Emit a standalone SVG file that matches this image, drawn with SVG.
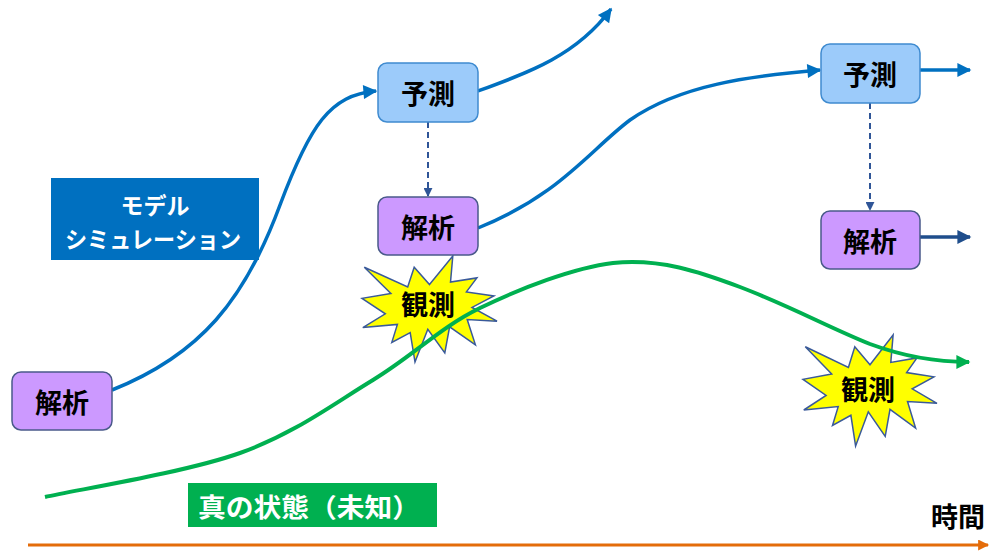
<svg xmlns="http://www.w3.org/2000/svg" width="993" height="553" viewBox="0 0 993 553">
<style>
.lbl{font-family:"Noto Sans CJK JP","Noto Sans",sans-serif;font-weight:bold;font-size:27px;fill:#000;text-anchor:middle;dominant-baseline:central}
.wlbl{font-family:"Noto Sans CJK JP","Noto Sans",sans-serif;font-weight:bold;fill:#fff;text-anchor:middle;dominant-baseline:central}
.pred{fill:#9CCBFA;stroke:#3F8BD0;stroke-width:1.5}
.ana{fill:#CC99FF;stroke:#4A5A8A;stroke-width:1.5}
.star{fill:#FFFF00;stroke:#3A5A9A;stroke-width:1.5;stroke-linejoin:miter}
.blue{fill:none;stroke:#0070C0;stroke-width:3.5}
.navy{fill:none;stroke:#1F4E8C;stroke-width:3.5}
.dash{fill:none;stroke:#2F5597;stroke-width:2;stroke-dasharray:6 4}
.green{fill:none;stroke:#00B050;stroke-width:4}
.orange{fill:none;stroke:#E46C0A;stroke-width:3}
</style>
<defs>
<marker id="aBlue" viewBox="0 0 10 10" refX="9" refY="5" markerWidth="16" markerHeight="14" markerUnits="userSpaceOnUse" orient="auto"><path d="M0,0 L10,5 L0,10 Z" fill="#0070C0"/></marker>
<marker id="aNavy" viewBox="0 0 10 10" refX="9" refY="5" markerWidth="16" markerHeight="14" markerUnits="userSpaceOnUse" orient="auto"><path d="M0,0 L10,5 L0,10 Z" fill="#1F4E8C"/></marker>
<marker id="aDash" viewBox="0 0 10 10" refX="9" refY="5" markerWidth="9" markerHeight="9" markerUnits="userSpaceOnUse" orient="auto"><path d="M0,0 L10,5 L0,10 Z" fill="#2F5597"/></marker>
<marker id="aGreen" viewBox="0 0 10 10" refX="9" refY="5" markerWidth="16" markerHeight="14" markerUnits="userSpaceOnUse" orient="auto"><path d="M0,0 L10,5 L0,10 Z" fill="#00B050"/></marker>
<marker id="aOrange" viewBox="0 0 10 10" refX="9" refY="5" markerWidth="12" markerHeight="11" markerUnits="userSpaceOnUse" orient="auto"><path d="M0,0 L10,5 L0,10 Z" fill="#E46C0A"/></marker>
</defs>
<rect width="993" height="553" fill="#fff"/>

<g id="obs1">
<path class="star" d="M429.5,284.5 L452.8,256 L450.5,282.1 L476.9,277.9 L466.4,291.9 L493.9,295.9 L472,307.4 L497,321.2 L467.2,319.5 L475.4,344.8 L449.6,326.9 L444.8,352.9 L427.8,329.3 L415,362 L410.2,332.7 L391.8,342.4 L397.4,324.4 L362.8,327.6 L385.3,313.8 L362,298.3 L390.9,293.4 L364.3,267.3 L407.7,287 L414.2,267.3 Z"/>
</g>
<g id="obs2">
<path class="star" d="M870,364.8 L893.1,335 L890.8,362.4 L917,357.9 L906.6,372.6 L933.9,376.8 L912.2,388.8 L937,403.3 L907.5,401.5 L915.6,428 L890,409.3 L885.2,436.4 L868.3,411.8 L855.6,446 L850.9,415.3 L832.5,425.5 L838.2,406.6 L803.8,410 L826.1,395.5 L803,379.3 L831.7,374.1 L805.3,346.8 L848.4,367.5 L854.8,346.8 Z"/>
</g>

<g id="connectors">
<path class="blue" d="M112,390 C200,355 245,300 280,205 C310,125 330,95 376,91" marker-end="url(#aBlue)"/>
<path class="blue" d="M478,91 C530,72 577,55 611,9" marker-end="url(#aBlue)"/>
<path class="blue" d="M478,228 C560,195 590,150 630,120 C680,85 750,76 820,70" marker-end="url(#aBlue)"/>
<path class="blue" d="M920,70 L970,70" marker-end="url(#aBlue)"/>
<path class="navy" d="M920,237 L970,237" marker-end="url(#aNavy)"/>
<path class="dash" d="M428,122 L428,196" marker-end="url(#aDash)"/>
<path class="dash" d="M870,103 L870,210" marker-end="url(#aDash)"/>
<path class="green" d="M45,497 C77.5,489.7 185.3,472.5 240,453 C294.7,433.5 333,404.2 373,380 C413,355.8 440,327.5 480,308 C520,288.5 574.2,267.7 613,263 C660,258 700,272 740,287 C790,306 830,328 870,344 C905,357 935,362 969,362" marker-end="url(#aGreen)"/>
<path class="orange" d="M28,545 L988,545" marker-end="url(#aOrange)"/>
</g>

<g id="obs1-label"><text class="lbl" x="428" y="303">観測</text></g>
<g id="obs2-label"><text class="lbl" x="868" y="388">観測</text></g>

<g id="analysis0">
<rect class="ana" x="12" y="372" width="100" height="58" rx="9"/>
<text class="lbl" x="62" y="401">解析</text>
</g>
<g id="predict1">
<rect class="pred" x="378" y="63" width="100" height="59" rx="9"/>
<text class="lbl" x="428" y="92">予測</text>
</g>
<g id="analysis1">
<rect class="ana" x="378" y="197" width="100" height="58" rx="9"/>
<text class="lbl" x="428" y="226">解析</text>
</g>
<g id="predict2">
<rect class="pred" x="821" y="44" width="99" height="59" rx="9"/>
<text class="lbl" x="870" y="73">予測</text>
</g>
<g id="analysis2">
<rect class="ana" x="821" y="211" width="99" height="58" rx="9"/>
<text class="lbl" x="870" y="240">解析</text>
</g>

<g id="model-sim">
<rect x="51" y="178" width="208" height="82" fill="#0070C0"/>
<text class="wlbl" x="155" y="204" font-size="23">モデル</text>
<text class="wlbl" x="153" y="238" font-size="23" textLength="176" lengthAdjust="spacingAndGlyphs">シミュレーション</text>
</g>
<g id="true-state">
<rect x="188" y="483" width="249" height="44" fill="#00B050"/>
<text class="wlbl" x="309" y="505" font-size="26" textLength="222" lengthAdjust="spacingAndGlyphs">真の状態（未知）</text>
</g>
<g id="time">
<text class="lbl" x="958" y="515">時間</text>
</g>
</svg>
